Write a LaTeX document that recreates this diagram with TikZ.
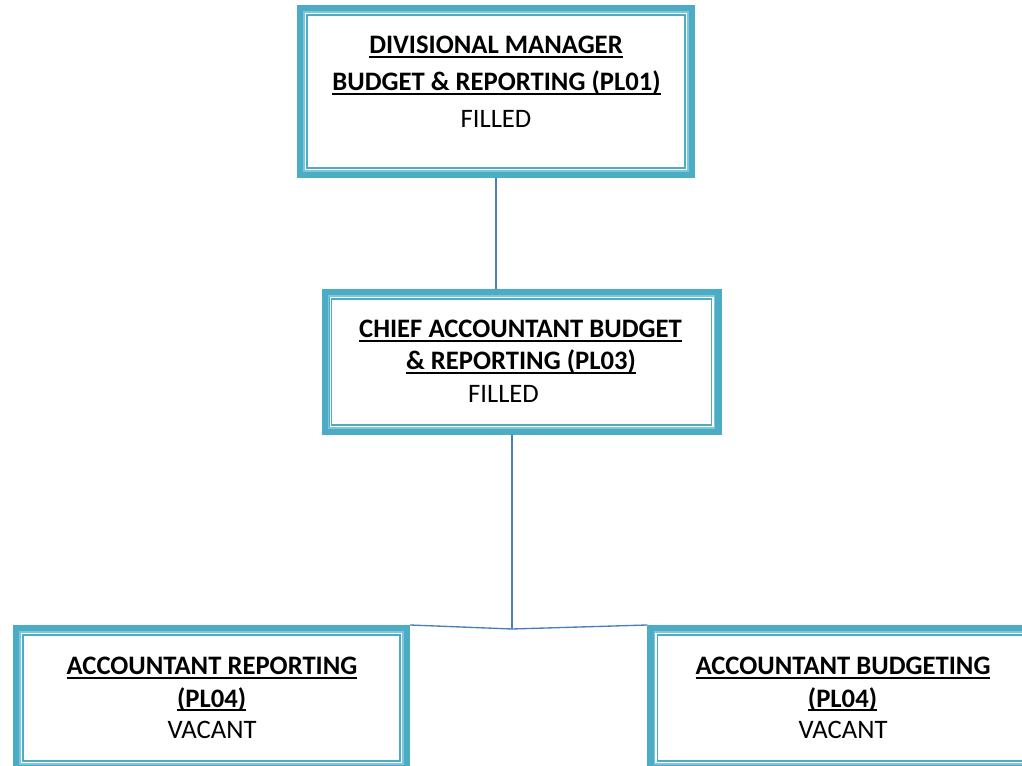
\documentclass[tikz,border=0pt]{standalone}
\usepackage{fontspec}
\setmainfont{Carlito}
\usetikzlibrary{backgrounds}
\definecolor{frame}{HTML}{4BACC6}
\definecolor{wire}{HTML}{4A7EBB}
\newcommand\ulbox[1]{\setbox0\hbox{#1}\rlap{\rule[-2.7pt]{\wd0}{1.2pt}}\box0}
\begin{document}
\begin{tikzpicture}[x=0.75pt, y=-0.75pt,
  post/.style={draw=frame, line width=6pt, inner sep=0pt, rectangle},
  title/.style={font=\bfseries\fontsize{20}{24}\selectfont, anchor=base, inner sep=0pt},
  status/.style={font=\fontsize{20}{24}\selectfont, anchor=base, inner sep=0pt},
  link/.style={draw=wire, line width=1pt}]
  \useasboundingbox (0,0) rectangle (1022,766);
  \clip (0,0) rectangle (1022,766);
  \node[post, minimum width=292.5pt, minimum height=123.75pt] (dm) at (496,91.5) {};
  \node[post, minimum width=294pt, minimum height=103.5pt] (ca) at (521.7,362) {};
  \node[post, minimum width=291.75pt, minimum height=103.5pt] (ar) at (211.5,698) {};
  \node[post, minimum width=291.75pt, minimum height=103.5pt] (ab) at (845.8,698) {};
  \foreach \n in {dm,ca,ar,ab}{
    \draw[frame!70, line width=1pt] ([shift={(7,7)}]\n.north west) rectangle ([shift={(-7,-7)}]\n.south east);
    \draw[frame, line width=0.9pt] ([shift={(10,10)}]\n.north west) rectangle ([shift={(-10,-10)}]\n.south east);
  }
  % titles
  \node[title] (dm1) at (496,54) {\ulbox{DIVISIONAL MANAGER}};
  \node[title] (dm2) at (496.5,91) {\ulbox{BUDGET \& REPORTING (PL01)}};
  \node[status] (dm3) at (496,128) {FILLED};
  \node[title] (ca1) at (520.5,338) {\ulbox{CHIEF ACCOUNTANT BUDGET}};
  \node[title] (ca2) at (521,370) {\ulbox{\& REPORTING (PL03)}};
  \node[status] (ca3) at (503.5,403) {FILLED};
  \node[title] (ar1) at (212,675) {\ulbox{ACCOUNTANT REPORTING}};
  \node[title] (ar2) at (211.7,707) {\ulbox{(PL04)}};
  \node[status] (ar3) at (212,738) {VACANT};
  \node[title] (ab1) at (843,675) {\ulbox{ACCOUNTANT BUDGETING}};
  \node[title] (ab2) at (842.5,707) {\ulbox{(PL04)}};
  \node[status] (ab3) at (843,738) {VACANT};
  % connectors
  \coordinate (hub) at (512,629);
  \begin{scope}[on background layer]
    \draw[link] (dm.south) -- (dm.south |- ca.north);
    \draw[link] (hub |- ca.south) -- (hub);
    \draw[link] (ar.north east) -- (hub) -- (ab.north west);
  \end{scope}
\end{tikzpicture}
\end{document}
